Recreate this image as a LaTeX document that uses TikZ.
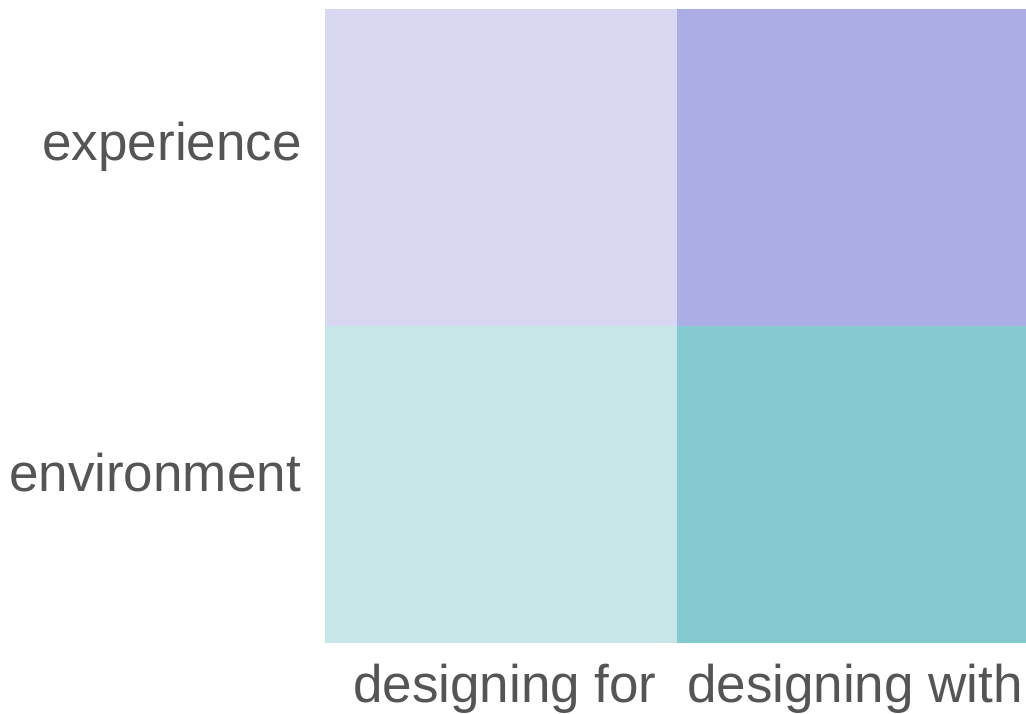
\documentclass[tikz,border=0pt]{standalone}
\usepackage{fontspec}
\setmainfont{Liberation Sans}
\definecolor{tl}{RGB}{216,216,243}
\definecolor{tr}{RGB}{173,173,230}
\definecolor{bl}{RGB}{199,230,232}
\definecolor{br}{RGB}{132,202,208}
\definecolor{txt}{RGB}{85,85,85}
\tikzset{
  cell/.style={inner sep=0pt, outer sep=0pt, draw=none, minimum width=#1},
  lab/.style={text=txt, font=\fontsize{53}{60}\selectfont, inner sep=0pt}
}
\begin{document}
\begin{tikzpicture}[x=1pt,y=1pt]
\useasboundingbox (0,0) rectangle (1026,714);
\fill[white] (0,0) rectangle (1026,714);
\node[fill=tl, inner sep=0pt, minimum width=352pt, minimum height=316.5pt, anchor=north west] (q1) at (325,705) {};
\node[fill=tr, inner sep=0pt, minimum width=349pt, minimum height=316.5pt, anchor=north west] (q2) at (677,705) {};
\node[fill=bl, inner sep=0pt, minimum width=352pt, minimum height=317.5pt, anchor=north west] (q3) at (325,388.5) {};
\node[fill=br, inner sep=0pt, minimum width=349pt, minimum height=317.5pt, anchor=north west] (q4) at (677,388.5) {};
\node[lab, anchor=base east] (l1) at (302,553) {experience};
\node[lab, anchor=base east] (l2) at (301,222) {environment};
\node[lab, anchor=base] (l3) at (505,11) {designing for};
\node[lab, anchor=base] (l4) at (855,11) {designing with};
\end{tikzpicture}
\end{document}
